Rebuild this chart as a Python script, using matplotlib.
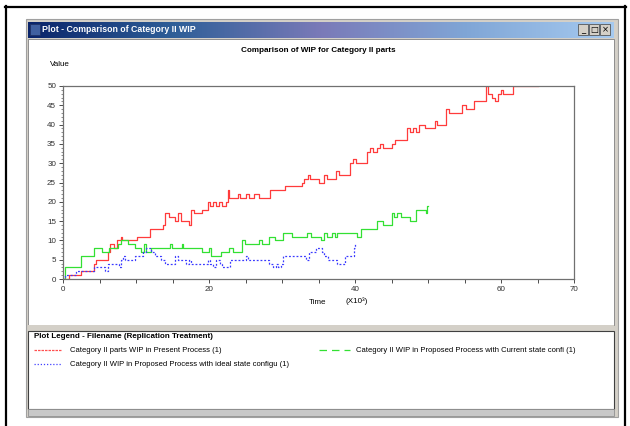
import matplotlib
matplotlib.use('Agg')
import matplotlib.pyplot as plt
import numpy as np
from matplotlib.patches import Rectangle
from matplotlib.lines import Line2D
from matplotlib.colors import LinearSegmentedColormap

plt.rcParams['font.family'] = ['Liberation Sans Narrow', 'Liberation Sans', 'DejaVu Sans']

# ---------------- data (time in thousands) ----------------
red_t = [0, 0.8, 2.5, 4.3, 4.5, 6.2, 6.5, 7.0, 7.4, 7.9, 8.1, 10.1, 11.9, 13.7, 14.0, 14.5,
         15.3, 15.8, 16.2, 17.2, 17.6, 17.9, 19.0, 19.8, 20.2, 20.6, 21.0, 21.4, 21.8, 22.3,
         22.6, 22.8, 24.0, 24.3, 25.0, 25.5, 26.2, 26.8, 28.4, 30.4, 32.7, 33.0, 33.5, 33.8,
         35.0, 35.7, 36.1, 37.4, 37.8, 39.3, 39.7, 40.2, 41.6, 42.0, 42.4, 43.0, 43.4, 43.9,
         45.0, 45.5, 47.1, 47.5, 48.0, 48.3, 48.7, 49.6, 50.9, 51.3, 52.5, 52.9, 54.6, 55.2,
         56.3, 57.9, 58.2, 58.8, 59.2, 59.6, 60.0, 60.3, 61.7, 65.1]
red_v = [0, 1, 2, 4, 5, 7, 9, 8, 10, 11, 10, 11, 13, 14, 17, 16,
         15, 17, 15, 14, 18, 17, 18, 20, 19, 20, 19, 20, 19, 20,
         23, 21, 22, 21, 22, 21, 22, 21, 23, 24, 25, 26, 27, 26,
         25, 27, 26, 28, 27, 30, 31, 30, 33, 34, 33, 34, 35, 34,
         35, 36, 39, 38, 39, 38, 40, 39, 41, 40, 44, 43, 45, 44,
         46, 50, 48, 47, 46, 48, 49, 48, 50, 50]

green_t = [0, 0.3, 2.4, 4.2, 5.3, 6.3, 7.5, 7.9, 8.9, 9.9, 10.7, 11.1, 11.4, 12.0, 14.7,
           14.9, 16.3, 16.5, 19.1, 20.0, 20.3, 21.6, 22.7, 23.3, 24.5, 24.9, 26.8, 27.3,
           28.2, 29.1, 30.2, 31.4, 33.4, 34.0, 35.4, 35.7, 36.2, 36.9, 37.3, 37.6, 40.3,
           40.8, 43.0, 43.8, 45.0, 45.4, 45.8, 46.3, 47.5, 48.4, 49.7, 49.9, 50.0]
green_v = [0, 3, 6, 8, 7, 8, 9, 10, 9, 8, 7, 9, 7, 8, 9,
           8, 9, 8, 7, 8, 6, 7, 8, 7, 10, 9, 10, 9,
           11, 10, 12, 11, 12, 11, 10, 12, 11, 12, 11, 12, 11,
           13, 15, 14, 17, 16, 17, 16, 15, 18, 17, 19, 19]

blue_t = [0, 0.3, 1.8, 4.2, 5.8, 6.2, 7.7, 8.0, 8.2, 8.5, 9.8, 11.0, 11.4, 12.0, 12.6,
          13.4, 14.0, 15.3, 15.7, 16.8, 17.2, 17.6, 19.8, 20.2, 20.5, 21.0, 21.5, 21.8,
          22.9, 25.0, 25.4, 28.2, 28.7, 29.2, 29.5, 29.9, 30.2, 33.3, 33.7, 34.7, 35.5,
          35.8, 36.3, 37.5, 38.6, 39.8, 40.0]
blue_v = [0, 1, 2, 3, 2, 4, 3, 5, 6, 5, 6, 7, 8, 7, 6,
          5, 4, 6, 5, 4, 5, 4, 5, 4, 3, 5, 4, 3,
          5, 6, 5, 4, 3, 4, 3, 4, 6, 5, 7, 8, 7,
          6, 5, 4, 6, 8, 9]

x_ticks = list(range(0, 75, 5))
x_tick_labels = ['0', '', '', '', '20', '', '', '', '40', '', '', '', '60', '', '70']
y_ticks = list(range(0, 55, 5))

window_title = 'Plot - Comparison of Category II WIP'
chart_title = 'Comparison of WIP for Category II parts'
legend_title = 'Plot Legend - Filename (Replication Treatment)'
series_labels = ['Category II parts WIP in Present Process (1)',
                 'Category II WIP in Proposed Process with ideal state configu (1)',
                 'Category II WIP in Proposed Process with Current state confi (1)']

# ---------------- figure ----------------
W, H = 630, 426
fig = plt.figure(figsize=(6.3, 4.26), dpi=100)
fig.patch.set_facecolor('white')


def rect(x, y, w, h, z=-10, **kw):
    fig.patches.append(Rectangle((x / W, 1 - (y + h) / H), w / W, h / H, zorder=z,
                                 transform=fig.transFigure, figure=fig, **kw))


def hline(x1, x2, y, **kw):
    fig.add_artist(Line2D([x1 / W, x2 / W], [1 - y / H, 1 - y / H], transform=fig.transFigure, **kw))


def vline(x, y1, y2, **kw):
    fig.add_artist(Line2D([x / W, x / W], [1 - y1 / H, 1 - y2 / H], transform=fig.transFigure, **kw))


def txt(x, y, s, **kw):
    fig.text(x / W, 1 - y / H, s, **kw)


# outer black border
vline(5.5, 6, 426, color='black', lw=1.6)
hline(5, 626, 6.5, color='black', lw=1.6)
vline(625, 6, 426, color='black', lw=1.6)

# window frame
rect(26, 19, 592, 398, facecolor='#d4d0c8', edgecolor='#a0a0a0', lw=0.8, z=-20)
# title bar gradient
tb = fig.add_axes([28 / W, 1 - 38 / H, 586 / W, 16 / H])
cmap = LinearSegmentedColormap.from_list('tb', ['#0a246a', '#2f5f98', '#7a7ab8', '#80a6d6', '#a6caf0'])
tb.imshow(np.linspace(0, 1, 256)[None, :], aspect='auto', cmap=cmap, extent=[0, 1, 0, 1])
tb.set_axis_off()
txt(42, 30, window_title, color='white', fontsize=6.3, fontweight='bold', va='center', ha='left')
rect(30, 24, 10, 11, facecolor='#4060a0', edgecolor='#203060', lw=0.5, z=5)
for bx, glyph in zip([578, 589, 600], ['_', '□', '×']):
    rect(bx, 24, 10, 11, facecolor='#d4d0c8', edgecolor='#404040', lw=0.5, z=5)
    txt(bx + 5, 29.5, glyph, fontsize=6, ha='center', va='center', color='black',
        family=['DejaVu Sans'], zorder=6)

# chart panel
rect(28, 39, 586, 286, facecolor='white', edgecolor='#808080', lw=0.6)
# separator
rect(28, 325, 586, 6, facecolor='#d4d0c8', edgecolor='none')
# legend panel
rect(28, 331, 586, 78, facecolor='white', edgecolor='#404040', lw=0.8)
# bottom bar
rect(28, 409, 586, 7, facecolor='#c8c8c8', edgecolor='#909090', lw=0.6)

# ---------------- axes ----------------
ax = fig.add_axes([63 / W, 1 - 279 / H, 511 / W, 193 / H])
ax.set_facecolor('white')
ax.step(red_t, red_v, where='post', color='#ff3b3b', lw=0.9)
ax.step(green_t, green_v, where='post', color='#33e033', lw=0.9)
ax.step(blue_t, blue_v, where='post', color='#3a3aff', lw=0.9, linestyle=(0, (1.5, 1.5)))
ax.set_xlim(0, 70)
ax.set_ylim(0, 50)
ax.set_xticks(x_ticks)
ax.set_xticklabels(x_tick_labels)
ax.set_yticks(y_ticks)
ax.set_yticks(range(0, 51), minor=True)
ax.tick_params(axis='both', which='major', direction='out', length=3, width=0.6,
               labelsize=5.8, pad=2, colors='#303030')
ax.tick_params(axis='y', which='minor', direction='out', length=1.5, width=0.5, colors='#606060')
for sp in ax.spines.values():
    sp.set_color('#707070')
    sp.set_linewidth(0.9)

txt(318, 50, chart_title, fontsize=5.9, fontweight='bold', ha='center', va='center')
txt(50, 64, 'Value', fontsize=5.8, ha='left', va='center')
txt(318, 302, 'Time', fontsize=5.8, ha='center', va='center')
txt(357, 301, '(X10³)', fontsize=5.8, ha='center', va='center')

# ---------------- legend ----------------
txt(34, 337, legend_title, fontsize=5.8, fontweight='bold', ha='left', va='center')
hline(34, 62, 350, color='#ff5050', lw=0.9, linestyle=(0, (2, 0.8)))
txt(70, 350, series_labels[0], fontsize=5.5, ha='left', va='center')
hline(34, 62, 364, color='#4040ff', lw=0.9, linestyle=(0, (1, 1.5)))
txt(70, 364, series_labels[1], fontsize=5.5, ha='left', va='center')
hline(319, 350, 350, color='#33e033', lw=0.9, linestyle=(0, (6, 4)))
txt(356, 350, series_labels[2], fontsize=5.5, ha='left', va='center')

fig.savefig('out.png', dpi=100, facecolor='white')
